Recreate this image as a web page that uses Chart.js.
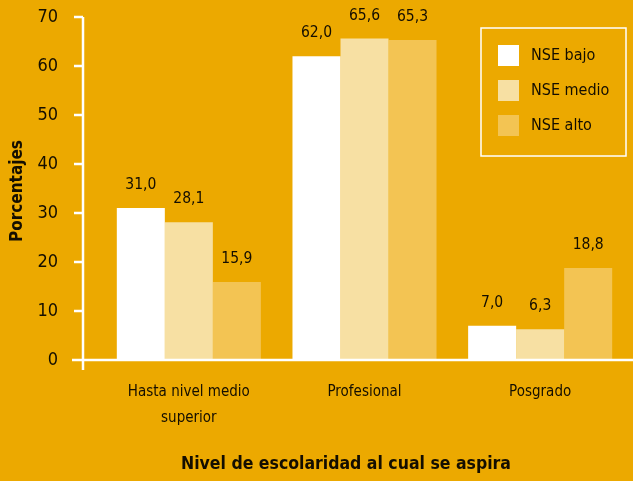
<!DOCTYPE html>
<html>
<head>
<meta charset="utf-8">
<script src="https://cdn.jsdelivr.net/npm/chart.js@4"></script>
<style>
  html, body { margin: 0; padding: 0; background: #eca900; }
  #wrap { width: 633px; height: 481px; }
</style>
</head>
<body>
<div id="wrap"><canvas id="chart" width="633" height="481"></canvas></div>
<script>
// Aspiraciones de escolaridad por nivel socioeconómico (%)
const categories = [['Hasta nivel medio', 'superior'], 'Profesional', 'Posgrado'];
const nseBajo = [31.0, 62.0, 7.0];
const nseMedio = [28.1, 65.6, 6.3];
const nseAlto = [15.9, 65.3, 18.8];
const seriesNames = ['NSE bajo', 'NSE medio', 'NSE alto'];
const yTicks = [0, 10, 20, 30, 40, 50, 60, 70];

const FONT = "'Liberation Sans Narrow', 'DejaVu Sans Condensed', 'Roboto Condensed', sans-serif";
const colors = ['#ffffff', '#f7e0a3', '#f3c453'];
const ink = '#140e00';

const fmt = v => v.toFixed(1).replace('.', ',');

// ejes, etiquetas, valores y leyenda dibujados a mano
const decor = {
  id: 'decor',
  afterDatasetsDraw(chart) {
    const { ctx, chartArea, scales } = chart;
    const x = scales.x, y = scales.y;
    const axisX = chartArea.left - 18;
    const base = y.getPixelForValue(0);
    ctx.save();

    // valores sobre las barras
    ctx.fillStyle = ink;
    ctx.font = '15.5px ' + FONT;
    ctx.textAlign = 'center';
    ctx.textBaseline = 'middle';
    chart.data.datasets.forEach((ds, i) => {
      chart.getDatasetMeta(i).data.forEach((bar, j) => {
        ctx.fillText(fmt(ds.data[j]), bar.x, bar.y - 23);
      });
    });

    // ejes
    ctx.strokeStyle = '#ffffff';
    ctx.lineWidth = 2.5;
    ctx.beginPath();
    ctx.moveTo(axisX, y.getPixelForValue(70));
    ctx.lineTo(axisX, base + 10);
    ctx.moveTo(axisX - 11, base);
    ctx.lineTo(chart.width, base);
    yTicks.forEach(t => {
      const py = y.getPixelForValue(t);
      ctx.moveTo(axisX - 9, py);
      ctx.lineTo(axisX, py);
    });
    ctx.stroke();

    // marcas del eje y
    ctx.font = '18px ' + FONT;
    ctx.textAlign = 'right';
    yTicks.forEach(t => ctx.fillText(String(t), axisX - 25, y.getPixelForValue(t)));

    // categorías
    ctx.font = '15px ' + FONT;
    ctx.textAlign = 'center';
    categories.forEach((c, j) => {
      const lines = Array.isArray(c) ? c : [c];
      const cx = x.getPixelForValue(j);
      lines.forEach((l, k) => ctx.fillText(l, cx, base + 32 + k * 26));
    });

    // títulos
    ctx.font = 'bold 17.5px ' + FONT;
    ctx.fillText('Nivel de escolaridad al cual se aspira', 346, 464);
    ctx.font = 'bold 17px ' + FONT;
    ctx.translate(18, 191);
    ctx.rotate(-Math.PI / 2);
    ctx.fillText('Porcentajes', 0, 0);
    ctx.setTransform(1, 0, 0, 1, 0, 0);

    // leyenda
    ctx.strokeStyle = '#ffffff';
    ctx.lineWidth = 1.5;
    ctx.strokeRect(481, 28, 145, 128);
    ctx.font = '16px ' + FONT;
    ctx.textAlign = 'left';
    seriesNames.forEach((n, i) => {
      const top = 45 + i * 35;
      ctx.fillStyle = colors[i];
      ctx.fillRect(498, top, 21, 21);
      ctx.fillStyle = ink;
      ctx.fillText(n, 531, top + 11);
    });
    ctx.restore();
  }
};

new Chart(document.getElementById('chart'), {
  type: 'bar',
  data: {
    labels: categories,
    datasets: [nseBajo, nseMedio, nseAlto].map((d, i) => ({
      label: seriesNames[i],
      data: d,
      backgroundColor: colors[i],
      borderWidth: 0,
      categoryPercentage: 0.82,
      barPercentage: 1.0
    }))
  },
  options: {
    responsive: false,
    animation: false,
    layout: { padding: { left: 101, right: 5, top: 17, bottom: 121 } },
    plugins: { legend: { display: false }, tooltip: { enabled: false } },
    scales: {
      x: { display: false },
      y: { display: false, min: 0, max: 70 }
    }
  },
  plugins: [decor]
});
</script>
</body>
</html>
